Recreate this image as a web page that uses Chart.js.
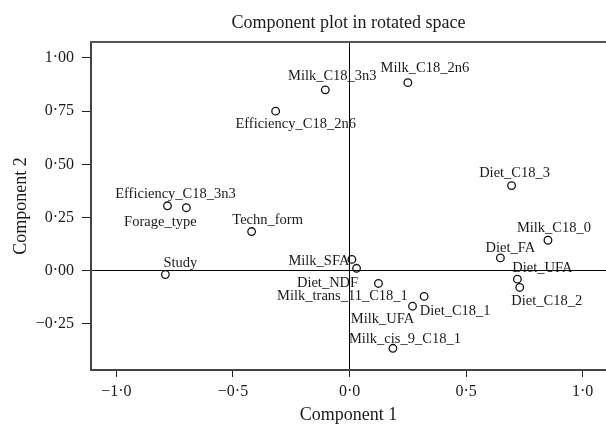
<!DOCTYPE html>
<html>
<head>
<meta charset="utf-8">
<script src="https://cdn.jsdelivr.net/npm/chart.js@4.4.1/dist/chart.umd.min.js"></script>
<style>
  html, body { margin: 0; padding: 0; background: #fff; overflow: hidden; }
  canvas { display: block; }
</style>
</head>
<body>
<canvas id="chartComp" width="606" height="429"></canvas>
<script>
// =========================================
// DATA - component loadings (rotated space)
// =========================================
const pointNames = [
    'Milk_C18_3n3', 'Milk_C18_2n6', 'Efficiency_C18_2n6', 'Diet_C18_3',
    'Efficiency_C18_3n3', 'Forage_type', 'Techn_form', 'Milk_C18_0',
    'Diet_FA', 'Milk_SFA', 'Diet_NDF', 'Study', 'Diet_UFA',
    'Milk_trans_11_C18_1', 'Diet_C18_2', 'Diet_C18_1', 'Milk_UFA',
    'Milk_cis_9_C18_1'
];
const component1 = [
    -0.104, 0.25, -0.317, 0.695,
    -0.781, -0.70, -0.42, 0.851,
    0.647, 0.01, 0.03, -0.79, 0.72,
    0.124, 0.73, 0.32, 0.27,
    0.186
];
const component2 = [
    0.85, 0.884, 0.75, 0.40,
    0.305, 0.296, 0.184, 0.143,
    0.06, 0.053, 0.011, -0.018, -0.04,
    -0.06, -0.079, -0.121, -0.167,
    -0.365
];

// Tick values + labels
const xTickValues = [-1.0, -0.5, 0.0, 0.5, 1.0];
const xTickLabels = ['\u22121\u00b70', '\u22120\u00b75', '0\u00b70', '0\u00b75', '1\u00b70'];
const yTickValues = [-0.25, 0.0, 0.25, 0.5, 0.75, 1.0];
const yTickLabels = ['\u22120\u00b725', '0\u00b700', '0\u00b725', '0\u00b750', '0\u00b775', '1\u00b700'];

// Label placement (pixel offsets of text centre from point)
const labelOffsets = [
    [7, -14], [17, -14], [20, 13], [3, -12],
    [8, -12], [-26, 14], [16, -11], [6, -12],
    [10, -10], [-33, 2], [-29, 15], [15, -11], [25, -11],
    [-36, 13], [27, 14], [31, 15], [-30, 13],
    [12, -9]
];

const serif = "'Liberation Serif', 'Times New Roman', serif";

// =========================================
// PLUGINS
// =========================================
const frameAndLabels = {
    id: 'frameAndLabels',
    afterDatasetsDraw(chart) {
        const ctx = chart.ctx;
        const area = chart.chartArea;
        ctx.save();
        // top frame line
        ctx.strokeStyle = '#555';
        ctx.lineWidth = 2;
        ctx.beginPath();
        ctx.moveTo(area.left - 1, area.top);
        ctx.lineTo(chart.width, area.top);
        ctx.stroke();

        // point labels
        const meta = chart.getDatasetMeta(0);
        ctx.font = '14.5px ' + serif;
        ctx.fillStyle = '#1a1a1a';
        ctx.textAlign = 'center';
        ctx.textBaseline = 'middle';
        meta.data.forEach((pt, i) => {
            const off = labelOffsets[i];
            ctx.fillText(pointNames[i], pt.x + off[0], pt.y + off[1]);
        });
        ctx.restore();
    }
};

// =========================================
// CHART
// =========================================
const ctxComp = document.getElementById('chartComp').getContext('2d');
const chartComp = new Chart(ctxComp, {
    type: 'scatter',
    data: {
        datasets: [{
            label: 'Components',
            data: component1.map((x, i) => ({ x: x, y: component2[i] })),
            pointStyle: 'circle',
            pointRadius: 3.8,
            pointBorderWidth: 1.3,
            pointBorderColor: '#111',
            pointBackgroundColor: 'rgba(255,255,255,0)'
        }]
    },
    options: {
        responsive: false,
        animation: false,
        devicePixelRatio: 1,
        layout: { padding: 0, autoPadding: false },
        plugins: {
            legend: { display: false },
            tooltip: { enabled: false },
            title: {
                display: true,
                text: 'Component plot in rotated space',
                fullSize: false,
                color: '#1a1a1a',
                font: { family: serif, size: 18, weight: 'normal' },
                padding: { top: 12, bottom: 8.4 }
            }
        },
        scales: {
            x: {
                type: 'linear',
                min: -1.109,
                max: 1.10,
                afterBuildTicks: (scale) => {
                    scale.ticks = xTickValues.map(v => ({ value: v }));
                },
                afterFit: (scale) => {
                    scale.height = 59;
                    scale.paddingLeft = 0;
                    scale.paddingRight = 0;
                },
                ticks: {
                    color: '#1a1a1a',
                    font: { family: serif, size: 16 },
                    padding: 5,
                    maxRotation: 0,
                    callback: (value, index) => xTickLabels[index]
                },
                grid: {
                    drawOnChartArea: true,
                    color: (c) => (c.tick && c.tick.value === 0 ? '#000' : 'rgba(0,0,0,0)'),
                    tickColor: '#222',
                    tickLength: 7,
                    lineWidth: 1
                },
                border: { display: true, color: '#444', width: 2 },
                title: {
                    display: true,
                    text: 'Component 1',
                    color: '#1a1a1a',
                    font: { family: serif, size: 18 },
                    padding: { top: 0, bottom: 3 }
                }
            },
            y: {
                type: 'linear',
                min: -0.467,
                max: 1.075,
                afterBuildTicks: (scale) => {
                    scale.ticks = yTickValues.map(v => ({ value: v }));
                },
                afterFit: (scale) => {
                    scale.width = 91;
                    scale.paddingTop = 0;
                    scale.paddingBottom = 0;
                },
                ticks: {
                    color: '#1a1a1a',
                    font: { family: serif, size: 16 },
                    padding: 8,
                    callback: (value, index) => yTickLabels[index]
                },
                grid: {
                    drawOnChartArea: true,
                    color: (c) => (c.tick && c.tick.value === 0 ? '#000' : 'rgba(0,0,0,0)'),
                    tickColor: '#222',
                    tickLength: 9,
                    lineWidth: 1
                },
                border: { display: true, color: '#444', width: 2 },
                title: {
                    display: true,
                    text: 'Component 2',
                    color: '#1a1a1a',
                    font: { family: serif, size: 18 },
                    padding: { top: 10, bottom: 0 }
                }
            }
        }
    },
    plugins: [frameAndLabels]
});
</script>
</body>
</html>
